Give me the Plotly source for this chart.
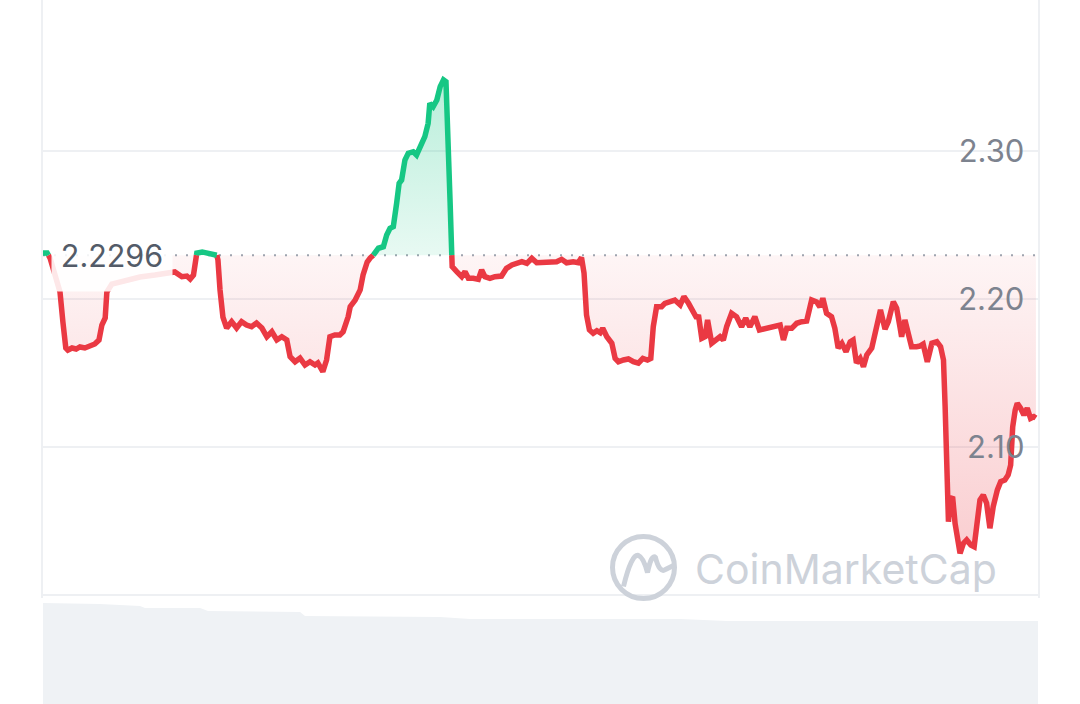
import plotly.graph_objects as go

# ---- data ----
hours = [0.00,0.10,0.17,0.29,0.41,0.48,0.55,0.60,0.70,0.80,
0.89,1.01,1.13,1.25,1.35,1.42,1.50,1.54,1.66,1.98,
2.34,2.70,3.06,3.18,3.35,3.47,3.55,3.63,3.71,3.84,
3.96,4.08,4.19,4.22,4.27,4.34,4.43,4.55,4.67,4.79,
4.91,5.03,5.15,5.28,5.40,5.52,5.64,5.76,5.88,5.96,
6.08,6.20,6.32,6.44,6.56,6.63,6.75,6.84,6.92,7.04,
7.16,7.24,7.36,7.41,7.53,7.65,7.72,7.82,7.89,7.97,
8.09,8.21,8.29,8.37,8.45,8.53,8.59,8.65,8.73,8.81,
8.93,9.01,9.13,9.21,9.29,9.33,9.41,9.50,9.58,9.66,
9.72,9.78,9.82,9.86,9.87,9.98,10.10,10.18,10.26,10.38,
10.50,10.58,10.66,10.78,10.90,11.06,11.18,11.31,11.43,11.55,
11.67,11.79,11.91,12.07,12.23,12.39,12.51,12.63,12.79,12.91,
12.99,13.05,13.11,13.18,13.27,13.36,13.44,13.50,13.60,13.72,
13.80,13.88,14.00,14.12,14.24,14.36,14.47,14.58,14.66,14.72,
14.80,14.92,15.00,15.12,15.24,15.37,15.46,15.57,15.69,15.77,
15.81,15.89,15.97,16.03,16.13,16.25,16.33,16.41,16.49,16.61,
16.73,16.85,16.95,17.05,17.17,17.28,17.46,17.62,17.78,17.86,
17.94,18.06,18.18,18.30,18.42,18.54,18.66,18.74,18.81,18.90,
19.02,19.10,19.18,19.27,19.37,19.47,19.54,19.62,19.71,19.79,
19.87,19.99,20.11,20.20,20.31,20.39,20.51,20.59,20.67,20.71,
20.79,20.87,20.95,21.07,21.15,21.23,21.33,21.44,21.56,21.65,
21.72,21.76,21.80,21.84,21.88,21.94,22.00,22.05,22.12,22.20,
22.28,22.38,22.46,22.52,22.60,22.68,22.76,22.84,22.92,23.02,
23.10,23.20,23.28,23.34,23.39,23.45,23.50,23.58,23.66,23.74,
23.82,23.90,23.95]

prices = [2.2311,2.2311,2.2277,2.2162,2.2047,2.1845,2.1669,2.1655,2.1669,2.1662,
2.1676,2.1669,2.1682,2.1696,2.1723,2.1824,2.1872,2.2047,2.2101,2.2128,
2.2149,2.2162,2.2183,2.2183,2.2151,2.2155,2.2135,2.2162,2.2311,2.2318,
2.2311,2.2304,2.2297,2.2264,2.2061,2.1878,2.1804,2.1847,2.1804,2.1847,
2.1824,2.1813,2.1838,2.1804,2.1745,2.1779,2.1723,2.1745,2.1723,2.1610,
2.1576,2.1601,2.1554,2.1576,2.1554,2.1568,2.1509,2.1588,2.1745,2.1757,
2.1757,2.1779,2.1880,2.1948,2.1993,2.2061,2.2162,2.2250,2.2277,2.2297,
2.2343,2.2353,2.2433,2.2478,2.2489,2.2647,2.2782,2.2804,2.2939,2.2985,
2.2995,2.2973,2.3041,2.3097,2.3187,2.3322,2.3299,2.3345,2.3435,2.3480,
2.3468,2.3097,2.2649,2.2297,2.2218,2.2185,2.2151,2.2185,2.2140,2.2140,
2.2133,2.2196,2.2151,2.2140,2.2151,2.2155,2.2207,2.2230,2.2241,2.2252,
2.2241,2.2275,2.2245,2.2245,2.2245,2.2252,2.2268,2.2245,2.2252,2.2245,
2.2280,2.2176,2.1892,2.1791,2.1768,2.1786,2.1772,2.1802,2.1745,2.1701,
2.1599,2.1576,2.1588,2.1595,2.1576,2.1566,2.1599,2.1588,2.1599,2.1813,
2.1948,2.1948,2.1971,2.1982,2.1993,2.1960,2.2016,2.1971,2.1903,2.1870,
2.1892,2.1734,2.1745,2.1858,2.1701,2.1734,2.1745,2.1723,2.1813,2.1903,
2.1880,2.1813,2.1870,2.1813,2.1880,2.1791,2.1802,2.1818,2.1824,2.1723,
2.1802,2.1802,2.1836,2.1847,2.1851,2.1993,2.1980,2.1946,2.2005,2.1903,
2.1880,2.1802,2.1669,2.1701,2.1644,2.1711,2.1723,2.1568,2.1599,2.1543,
2.1622,2.1669,2.1836,2.1926,2.1797,2.1847,2.1982,2.1939,2.1813,2.1745,
2.1858,2.1768,2.1678,2.1678,2.1682,2.1696,2.1576,2.1701,2.1711,2.1678,
2.1588,2.1272,2.0822,2.0495,2.0642,2.0664,2.0484,2.0372,2.0282,2.0349,
2.0372,2.0338,2.0326,2.0462,2.0642,2.0676,2.0620,2.0451,2.0597,2.0710,
2.0766,2.0777,2.0811,2.0878,2.1137,2.1250,2.1295,2.1262,2.1216,2.1262,
2.1194,2.1205,2.1196]

base_price = 2.2296
base_label = "2.2296"

tick_vals = [2.00, 2.10, 2.20, 2.30]
tick_text = ["", "2.10", "2.20", "2.30"]

vol_hours = [0, 1.37, 2.34, 2.46, 3.79, 3.98, 6.20, 6.32, 9.58, 10.30, 15.37, 16.50, 24.0]
vol_values = [101, 100, 98, 96, 96, 93, 92, 88, 87, 85, 85, 83, 83]

RED = "#ea3943"
GREEN = "#16c784"

# ---- split series at baseline crossings (for colouring) ----
xs, ys = [], []
for i in range(len(hours)):
    if i > 0:
        y0, y1 = prices[i - 1], prices[i]
        if (y0 - base_price) * (y1 - base_price) < 0:
            t = (base_price - y0) / (y1 - y0)
            xs.append(hours[i - 1] + t * (hours[i] - hours[i - 1]))
            ys.append(base_price)
    xs.append(hours[i])
    ys.append(prices[i])

red_line = [y if y <= base_price else None for y in ys]
green_line = [y if y >= base_price else None for y in ys]
red_fill = [min(y, base_price) for y in ys]
green_fill = [max(y, base_price) for y in ys]

fig = go.Figure()

# volume area
fig.add_trace(go.Scatter(x=vol_hours, y=vol_values, yaxis="y2", mode="lines",
                         line=dict(width=0, color="#eff2f5"), fill="tozeroy",
                         fillcolor="#eff2f5", hoverinfo="skip", showlegend=False))

# baseline (dotted) + red fill
fig.add_trace(go.Scatter(x=[xs[0], xs[-1]], y=[base_price, base_price], mode="lines",
                         line=dict(color="#9ea4af", width=2, dash="2px,9px"),
                         hoverinfo="skip", showlegend=False))
fig.add_trace(go.Scatter(x=xs, y=red_fill, mode="lines", line=dict(width=0),
                         fill="tonexty",
                         fillgradient=dict(type="vertical", start=min(prices), stop=base_price,
                                           colorscale=[[0, "rgba(234,57,67,0.25)"],
                                                       [1, "rgba(234,57,67,0.05)"]]),
                         hoverinfo="skip", showlegend=False))
# invisible baseline + green fill
fig.add_trace(go.Scatter(x=[xs[0], xs[-1]], y=[base_price, base_price], mode="lines",
                         line=dict(width=0), hoverinfo="skip", showlegend=False))
fig.add_trace(go.Scatter(x=xs, y=green_fill, mode="lines", line=dict(width=0),
                         fill="tonexty",
                         fillgradient=dict(type="vertical", start=base_price, stop=max(prices),
                                           colorscale=[[0, "rgba(22,199,132,0.10)"],
                                                       [1, "rgba(22,199,132,0.30)"]]),
                         hoverinfo="skip", showlegend=False))

# price lines
fig.add_trace(go.Scatter(x=xs, y=red_line, mode="lines", connectgaps=False,
                         line=dict(color=RED, width=5.5), showlegend=False))
fig.add_trace(go.Scatter(x=xs, y=green_line, mode="lines", connectgaps=False,
                         line=dict(color=GREEN, width=5.5), showlegend=False))

y_top = 2.40203
y_bot = 1.99798

fig.update_layout(
    width=1080, height=704,
    margin=dict(l=43, r=42, t=0, b=0),
    paper_bgcolor="white", plot_bgcolor="white",
    font=dict(family="Inter, Roboto, sans-serif"),
    xaxis=dict(range=[0, 24], showgrid=False, zeroline=False, showticklabels=False,
               showline=False, fixedrange=True),
    yaxis=dict(domain=[1 - 598 / 704, 1], range=[y_bot, y_top], side="right",
               tickvals=tick_vals, ticktext=tick_text,
               ticklabelposition="inside", ticklabelstandoff=17,
               tickfont=dict(size=31, color="#7d838f", family="Inter, Roboto, sans-serif"),
               showgrid=True, gridcolor="#eef0f3", gridwidth=1.5,
               zeroline=False, showline=True, mirror=True, linecolor="#eef0f3", linewidth=1.5,
               ticks=""),
    yaxis2=dict(domain=[0, 104 / 704], range=[0, 104], showgrid=False, zeroline=False,
                showticklabels=False, showline=False),
    showlegend=False,
)

# baseline value label with white box
fig.add_annotation(x=(112 - 43) / 995, xref="paper", y=base_price, yref="y",
                   xanchor="center", yanchor="middle",
                   text=base_label, showarrow=False,
                   font=dict(size=30.5, color="#535b68", family="Inter, Roboto, sans-serif"),
                   bgcolor="rgba(255,255,255,0.88)", width=118, height=70, borderpad=1)

# watermark
fig.add_annotation(x=(846 - 43) / 995, xref="paper", y=1 - 569 / 704, yref="paper",
                   xanchor="center", yanchor="middle",
                   text="CoinMarketCap", showarrow=False,
                   font=dict(size=41, color="#cdd2da", family="Inter, Roboto, sans-serif"))
lx = (643.5 - 43) / 995
ly = 1 - 567.5 / 704
fig.add_shape(type="circle", xref="paper", yref="paper", xsizemode="pixel", ysizemode="pixel",
              xanchor=lx, yanchor=ly, x0=-31, x1=31, y0=-31, y1=31,
              line=dict(color="#cdd2da", width=5))
fig.add_shape(type="path", xref="paper", yref="paper", xsizemode="pixel", ysizemode="pixel",
              xanchor=lx, yanchor=ly,
              path="M -20,-19 Q -12,14 -5,12 Q 0,10 4,-5 Q 8,14 12,10 Q 16,-6 22,-2 L 30,2",
              line=dict(color="#cdd2da", width=5))

fig.write_html("out.html", config={"displayModeBar": False},
               post_script="document.body.style.margin='0';")
